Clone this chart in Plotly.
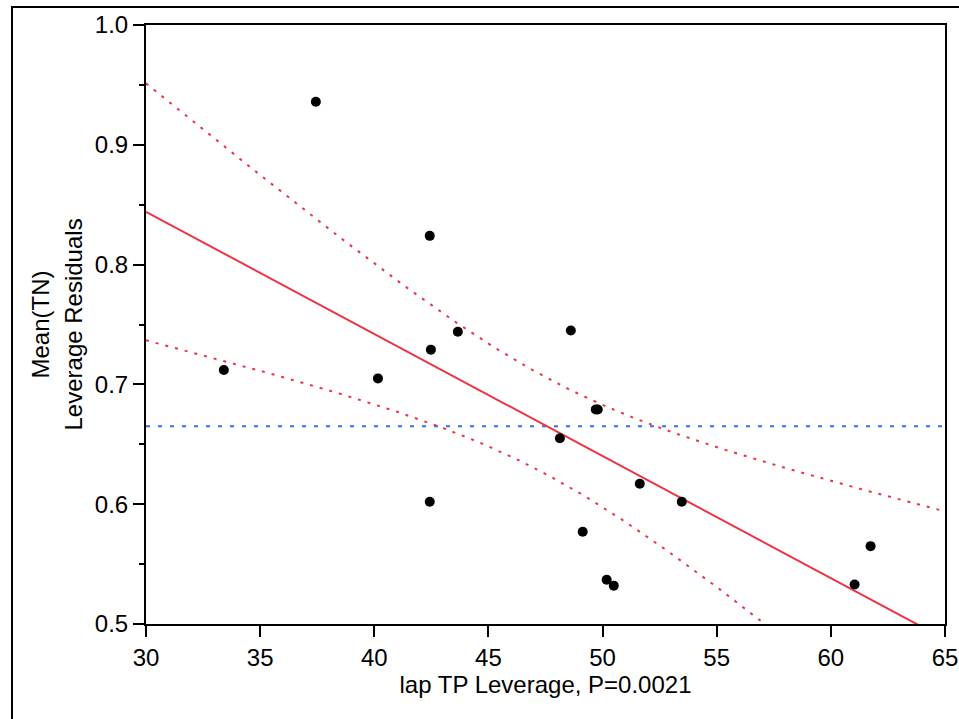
import numpy as np
import plotly.graph_objects as go

# Data
x_vals = [33.41, 37.44, 40.16, 42.43, 42.48, 42.43, 43.66, 48.61, 48.13,
          49.70, 49.79, 49.13, 50.18, 50.49, 51.63, 53.47, 61.04, 61.74]
y_vals = [0.712, 0.936, 0.705, 0.824, 0.729, 0.602, 0.744, 0.745, 0.655,
          0.679, 0.679, 0.577, 0.537, 0.532, 0.617, 0.602, 0.533, 0.565]
x_ticks = [30, 35, 40, 45, 50, 55, 60, 65]
y_ticks = [0.5, 0.6, 0.7, 0.8, 0.9, 1.0]
x_title = "lap TP Leverage, P=0.0021"
y_title_lines = ["Mean(TN)", "Leverage Residuals"]
T_CRIT = 2.12  # t(0.975, df=16)

x = np.array(x_vals)
y = np.array(y_vals)
n = len(x)
xm, ym = x.mean(), y.mean()
sxx = ((x - xm) ** 2).sum()
slope = ((x - xm) * (y - ym)).sum() / sxx
icpt = ym - slope * xm
sse = ((y - (icpt + slope * x)) ** 2).sum()
s = np.sqrt(sse / (n - 2))

xg = np.linspace(x_ticks[0], x_ticks[-1], 300)
fit = icpt + slope * xg
hw = T_CRIT * s * np.sqrt(1.0 / n + (xg - xm) ** 2 / sxx)

RED = "rgb(238,52,68)"
BLUE = "rgb(50,110,245)"
FONT = "Liberation Sans, Arial, sans-serif"
FS = 24

fig = go.Figure()
fig.add_trace(go.Scatter(x=[xg[0], xg[-1]], y=[ym, ym], mode="lines",
                         line=dict(color=BLUE, width=2, dash="4px,8px"), hoverinfo="skip"))
fig.add_trace(go.Scatter(x=xg, y=fit + hw, mode="lines",
                         line=dict(color=RED, width=2, dash="3px,7px"), hoverinfo="skip"))
fig.add_trace(go.Scatter(x=xg, y=fit - hw, mode="lines",
                         line=dict(color=RED, width=2, dash="3px,7px"), hoverinfo="skip"))
fig.add_trace(go.Scatter(x=xg, y=fit, mode="lines",
                         line=dict(color=RED, width=2), hoverinfo="skip"))
fig.add_trace(go.Scatter(x=x, y=y, mode="markers",
                         marker=dict(color="black", size=10, line=dict(width=0))))

W, H = 959, 719
ml, mr, mt, mb = 146, 14, 25, 95
pw, ph = W - ml - mr, H - mt - mb

def px_to_paper_x(px):
    return (px - ml) / pw

def px_to_paper_y(py):
    return (H - mb - py) / ph

fig.update_layout(
    width=W, height=H,
    margin=dict(l=ml, r=mr, t=mt, b=mb, autoexpand=False),
    paper_bgcolor="white", plot_bgcolor="white",
    showlegend=False,
    font=dict(family=FONT, size=FS, color="black"),
    xaxis=dict(range=[x_ticks[0], x_ticks[-1]], tickvals=x_ticks,
               showgrid=False, zeroline=False, automargin=False,
               showline=True, linecolor="black", linewidth=2, mirror=True,
               ticks="outside", ticklen=11, tickwidth=2, tickcolor="black",
               title=dict(text=x_title, font=dict(size=FS), standoff=6)),
    yaxis=dict(range=[y_ticks[0], y_ticks[-1]], tickvals=y_ticks, tickformat=".1f",
               showgrid=False, zeroline=False, automargin=False,
               showline=True, linecolor="black", linewidth=2, mirror=True,
               ticks="outside", ticklen=11, tickwidth=2, tickcolor="black",
               minor=dict(dtick=0.05, ticks="outside", ticklen=5, tickwidth=2,
                          tickcolor="black", showgrid=False)),
    shapes=[dict(type="rect", xref="paper", yref="paper",
                 x0=px_to_paper_x(12), x1=px_to_paper_x(970),
                 y0=px_to_paper_y(730), y1=px_to_paper_y(7),
                 line=dict(color="black", width=2), fillcolor="rgba(0,0,0,0)",
                 layer="below")],
    annotations=[
        dict(text=y_title_lines[0], textangle=-90, xref="paper", yref="paper",
             x=px_to_paper_x(40), y=0.5, xanchor="center", yanchor="middle",
             showarrow=False, font=dict(size=FS)),
        dict(text=y_title_lines[1], textangle=-90, xref="paper", yref="paper",
             x=px_to_paper_x(73), y=0.5, xanchor="center", yanchor="middle",
             showarrow=False, font=dict(size=FS)),
    ],
)

fig.write_html("out.html")
